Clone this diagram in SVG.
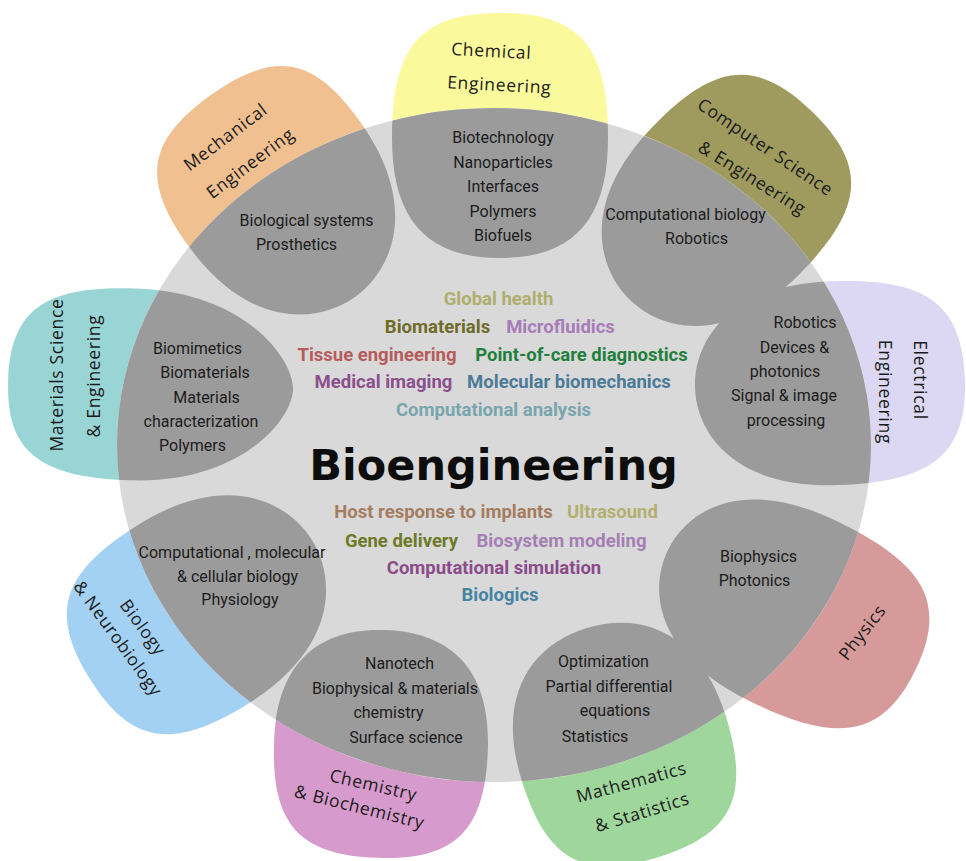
<svg xmlns="http://www.w3.org/2000/svg" width="966" height="861" viewBox="0 0 966 861">
<style>
.lobe{fill:#9b9b9b}
.lab{font-family:"Open Sans","Noto Sans",sans-serif;font-size:17.5px;letter-spacing:0.7px;fill:#1a1a1a;text-anchor:middle}
.it{font-family:Roboto,"Liberation Sans",sans-serif;font-size:16px;fill:#1c1c1c;text-anchor:middle}
.kw{font-family:Roboto,"Liberation Sans",sans-serif;font-size:18.5px;font-weight:700;text-anchor:middle}
.title{font-family:"DejaVu Sans",sans-serif;font-size:43px;font-weight:700;fill:#0d0d0d;text-anchor:middle}
</style>
<defs>
<path id="p-chem" d="M0,0C-75,0 -108,-40 -108,-120C-108,-210 -81,-245 0,-245C81,-245 108,-210 108,-120C108,-40 75,0 0,0Z"/>
<path id="p-cs" d="M0,0C-45,0 -104,-35 -104,-140C-104,-228 -78,-262 0,-262C78,-262 104,-228 104,-140C104,-35 45,0 0,0Z"/>
<path id="p-ee" d="M0,0C-45,0 -102,-35 -102,-140C-102,-234 -76,-270 0,-270C76,-270 102,-234 102,-140C102,-35 45,0 0,0Z"/>
<path id="p-phy" d="M0,0C-45,0 -100,-35 -100,-140C-100,-237 -75,-275 0,-275C75,-275 100,-237 100,-140C100,-35 45,0 0,0Z"/>
<path id="p-math" d="M0,0C-60,0 -107,-40 -107,-125C-107,-208 -80,-240 0,-240C80,-240 107,-208 107,-125C107,-40 60,0 0,0Z"/>
<path id="p-chm" d="M0,0C-70,0 -107,-40 -107,-115C-107,-196 -80,-228 0,-228C80,-228 107,-196 107,-115C107,-40 70,0 0,0Z"/>
<path id="p-bio" d="M0,0C-45,0 -105,-35 -105,-140C-105,-228 -79,-262 0,-262C79,-262 105,-228 105,-140C105,-35 45,0 0,0Z"/>
<path id="p-mat" d="M0,0C-30,0 -96,-50 -96,-160C-96,-250 -72,-285 0,-285C72,-285 96,-250 96,-160C96,-50 30,0 0,0Z"/>
<path id="p-mech" d="M0,0C-45,0 -106,-35 -106,-140C-106,-218 -80,-248 0,-248C80,-248 106,-218 106,-140C106,-35 45,0 0,0Z"/>
<clipPath id="inside"><ellipse cx="494" cy="445" rx="377" ry="337"/></clipPath>
<clipPath id="outside"><path clip-rule="evenodd" d="M0,0H966V861H0Z M117,445 a377,337 0 1,0 754,0 a377,337 0 1,0 -754,0Z"/></clipPath>
</defs>
<rect width="966" height="861" fill="#ffffff"/>
<g id="bioengineering">
<ellipse cx="494" cy="445" rx="377" ry="337" fill="#d9d9d9"/>
</g>
<g id="chemical-engineering">
<g clip-path="url(#outside)"><use href="#p-chem" fill="#fafa9c" transform="translate(500,258)"/></g>
<g clip-path="url(#inside)"><use href="#p-chem" class="lobe" transform="translate(500,258)"/></g>
<text class="lab" transform="translate(491,57) rotate(3)">Chemical</text>
<text class="lab" transform="translate(499,91) rotate(3)">Engineering</text>
<text class="it" x="503" y="143">Biotechnology</text>
<text class="it" x="503" y="167.5">Nanoparticles</text>
<text class="it" x="503" y="192">Interfaces</text>
<text class="it" x="503" y="216.5">Polymers</text>
<text class="it" x="503" y="241">Biofuels</text>
</g>
<g id="computer-science">
<g clip-path="url(#outside)"><use href="#p-cs" fill="#9f9b5f" transform="translate(630,300) rotate(44)"/></g>
<g clip-path="url(#inside)"><use href="#p-cs" class="lobe" transform="translate(630,300) rotate(44)"/></g>
<text class="lab" transform="translate(762,152) rotate(34)">Computer Science</text>
<text class="lab" transform="translate(749,183) rotate(32)">&amp; Engineering</text>
<text class="it" x="685.5" y="220">Computational biology</text>
<text class="it" x="696.5" y="244">Robotics</text>
</g>
<g id="electrical-engineering">
<g clip-path="url(#outside)"><use href="#p-ee" fill="#dcd7f2" transform="translate(695,388) rotate(88)"/></g>
<g clip-path="url(#inside)"><use href="#p-ee" class="lobe" transform="translate(695,388) rotate(88)"/></g>
<text class="lab" transform="translate(914,380) rotate(90)">Electrical</text>
<text class="lab" transform="translate(879,392) rotate(90)">Engineering</text>
<text class="it" x="805" y="328">Robotics</text>
<text class="it" x="794.5" y="353">Devices &amp;</text>
<text class="it" x="785" y="377">photonics</text>
<text class="it" x="784" y="401">Signal &amp; image</text>
<text class="it" x="786" y="426">processing</text>
</g>
<g id="physics">
<g clip-path="url(#outside)"><use href="#p-phy" fill="#d69a9b" transform="translate(668,550) rotate(116)"/></g>
<g clip-path="url(#inside)"><use href="#p-phy" class="lobe" transform="translate(668,550) rotate(116)"/></g>
<text class="lab" transform="translate(867,636) rotate(-52)">Physics</text>
<text class="it" x="758.5" y="562">Biophysics</text>
<text class="it" x="754.5" y="586">Photonics</text>
</g>
<g id="mathematics-statistics">
<g clip-path="url(#outside)"><use href="#p-math" fill="#9ed69c" transform="translate(587,628) rotate(163)"/></g>
<g clip-path="url(#inside)"><use href="#p-math" class="lobe" transform="translate(587,628) rotate(163)"/></g>
<text class="lab" transform="translate(633,788) rotate(-15)">Mathematics</text>
<text class="lab" transform="translate(644,818) rotate(-17)">&amp; Statistics</text>
<text class="it" x="603.5" y="667">Optimization</text>
<text class="it" x="609" y="692">Partial differential</text>
<text class="it" x="615" y="716">equations</text>
<text class="it" x="595" y="742">Statistics</text>
</g>
<g id="chemistry-biochemistry">
<g clip-path="url(#outside)"><use href="#p-chm" fill="#d69bcc" transform="translate(385,630) rotate(182)"/></g>
<g clip-path="url(#inside)"><use href="#p-chm" class="lobe" transform="translate(385,630) rotate(182)"/></g>
<text class="lab" transform="translate(372,791) rotate(13)">Chemistry</text>
<text class="lab" transform="translate(358,813) rotate(14)">&amp; Biochemistry</text>
<text class="it" x="399.5" y="669">Nanotech</text>
<text class="it" x="395" y="694">Biophysical &amp; materials</text>
<text class="it" x="388.5" y="718">chemistry</text>
<text class="it" x="406" y="743">Surface science</text>
</g>
<g id="biology-neurobiology">
<g clip-path="url(#outside)"><use href="#p-bio" fill="#a2d1f3" transform="translate(312,540) rotate(238)"/></g>
<g clip-path="url(#inside)"><use href="#p-bio" class="lobe" transform="translate(312,540) rotate(238)"/></g>
<text class="lab" transform="translate(138,631) rotate(54)">Biology</text>
<text class="lab" transform="translate(113,642) rotate(54)">&amp; Neurobiology</text>
<text class="it" x="232" y="558">Computational , molecular</text>
<text class="it" x="237.5" y="582">&amp; cellular biology</text>
<text class="it" x="240" y="605">Physiology</text>
</g>
<g id="materials-science">
<g clip-path="url(#outside)"><use href="#p-mat" fill="#9ad5d6" transform="translate(293,390) rotate(272)"/></g>
<g clip-path="url(#inside)"><use href="#p-mat" class="lobe" transform="translate(293,390) rotate(272)"/></g>
<text class="lab" transform="translate(63,375) rotate(-90)">Materials Science</text>
<text class="lab" transform="translate(100,376) rotate(-90)">&amp; Engineering</text>
<text class="it" x="197.5" y="354">Biomimetics</text>
<text class="it" x="205" y="378">Biomaterials</text>
<text class="it" x="206.5" y="403">Materials</text>
<text class="it" x="201" y="427">characterization</text>
<text class="it" x="192.5" y="451">Polymers</text>
</g>
<g id="mechanical-engineering">
<g clip-path="url(#outside)"><use href="#p-mech" fill="#f0c090" transform="translate(355,297) rotate(324.5)"/></g>
<g clip-path="url(#inside)"><use href="#p-mech" class="lobe" transform="translate(355,297) rotate(324.5)"/></g>
<text class="lab" transform="translate(229,142) rotate(-37)">Mechanical</text>
<text class="lab" transform="translate(254,168) rotate(-37)">Engineering</text>
<text class="it" x="306.5" y="226">Biological systems</text>
<text class="it" x="296.5" y="250">Prosthetics</text>
</g>
<g id="bioengineering-topics">
<text class="kw" x="498.5" y="305" fill="#b0ae6e">Global health</text>
<text class="kw" x="437.5" y="333" fill="#6e6c28">Biomaterials</text>
<text class="kw" x="560.5" y="333" fill="#a87cba">Microfluidics</text>
<text class="kw" x="377" y="361" fill="#b65c5c">Tissue engineering</text>
<text class="kw" x="581.5" y="361" fill="#1f7f3d">Point-of-care diagnostics</text>
<text class="kw" x="383.5" y="388" fill="#8c4f8d">Medical imaging</text>
<text class="kw" x="569" y="388" fill="#4b7a99">Molecular biomechanics</text>
<text class="kw" x="493.5" y="416" fill="#78a5ae">Computational analysis</text>
<text class="title" x="493.5" y="480">Bioengineering</text>
<text class="kw" x="443.5" y="518" fill="#a47c60">Host response to implants</text>
<text class="kw" x="612.5" y="518" fill="#b1b070">Ultrasound</text>
<text class="kw" x="401.5" y="547" fill="#6e7a28">Gene delivery</text>
<text class="kw" x="561.5" y="547" fill="#a47fb5">Biosystem modeling</text>
<text class="kw" x="494" y="574" fill="#8b4b8b">Computational simulation</text>
<text class="kw" x="500" y="601" fill="#4583a3">Biologics</text>
</g>
</svg>
